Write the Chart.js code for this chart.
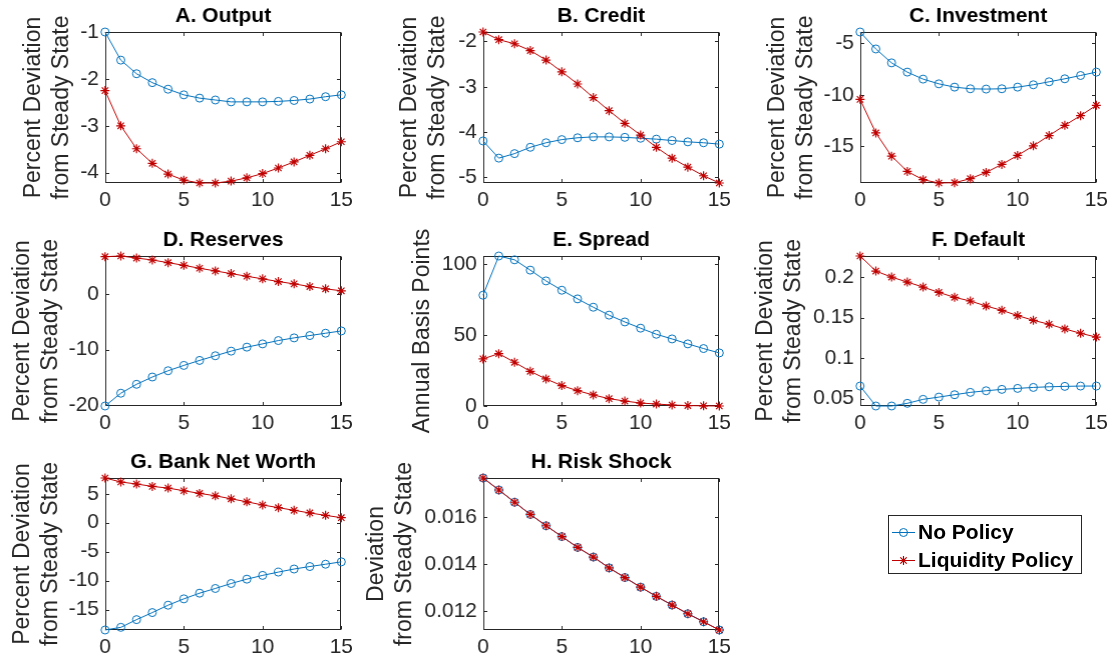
<!DOCTYPE html>
<html>
<head>
<meta charset="utf-8">
<script src="https://cdn.jsdelivr.net/npm/chart.js@4.4.0/dist/chart.umd.min.js"></script>
<style>
  html, body { margin: 0; padding: 0; background: #fff; overflow: hidden; }
  #fig { position: relative; width: 1120px; height: 665px; }
  .panel { position: absolute; }
</style>
</head>
<body>
<div id="fig"></div>
<script>
// horizon (quarters after the shock)
const steps = [0, 1, 2, 3, 4, 5, 6, 7, 8, 9, 10, 11, 12, 13, 14, 15];
const xTicks = [0, 5, 10, 15];
const seriesNames = ["No Policy", "Liquidity Policy"];

const outputNoPolicy = [-1.00, -1.60, -1.89, -2.08, -2.22, -2.34, -2.41, -2.45, -2.49, -2.49, -2.49, -2.48, -2.46, -2.43, -2.38, -2.34];
const outputLiquidity = [-2.25, -3.00, -3.49, -3.80, -4.03, -4.16, -4.22, -4.22, -4.18, -4.11, -4.02, -3.90, -3.77, -3.63, -3.49, -3.34];
const outputTicks = [-4, -3, -2, -1];

const creditNoPolicy = [-4.20, -4.58, -4.48, -4.34, -4.24, -4.17, -4.13, -4.11, -4.11, -4.12, -4.14, -4.16, -4.19, -4.22, -4.24, -4.27];
const creditLiquidity = [-1.79, -1.96, -2.05, -2.20, -2.41, -2.67, -2.94, -3.24, -3.53, -3.81, -4.07, -4.34, -4.58, -4.78, -4.97, -5.13];
const creditTicks = [-5, -4, -3, -2];

const investNoPolicy = [-3.90, -5.55, -6.90, -7.80, -8.48, -8.94, -9.26, -9.42, -9.45, -9.42, -9.26, -9.03, -8.74, -8.45, -8.13, -7.80];
const investLiquidity = [-10.45, -13.71, -15.97, -17.45, -18.26, -18.58, -18.55, -18.16, -17.55, -16.77, -15.90, -14.97, -13.97, -12.97, -12.03, -11.03];
const investTicks = [-15, -10, -5];

const reservesNoPolicy = [-20.15, -17.85, -16.24, -14.93, -13.80, -12.84, -11.94, -11.10, -10.27, -9.55, -8.96, -8.36, -7.88, -7.46, -7.04, -6.63];
const reservesLiquidity = [6.75, 6.87, 6.50, 6.15, 5.67, 5.19, 4.66, 4.18, 3.70, 3.22, 2.75, 2.27, 1.85, 1.37, 0.96, 0.60];
const reservesTicks = [-20, -10, 0];

const spreadNoPolicy = [78.3, 106.0, 103.3, 96.0, 88.4, 81.8, 75.7, 69.8, 64.2, 59.4, 55.0, 50.7, 47.4, 43.9, 40.6, 37.5];
const spreadLiquidity = [33.3, 37.0, 30.9, 24.5, 19.1, 14.4, 10.8, 7.8, 5.2, 3.5, 2.1, 1.4, 0.7, 0.3, 0.1, 0.0];
const spreadTicks = [0, 50, 100];

const defaultNoPolicy = [0.0656, 0.0410, 0.0410, 0.0443, 0.0492, 0.0520, 0.0549, 0.0578, 0.0598, 0.0615, 0.0627, 0.0639, 0.0647, 0.0652, 0.0656, 0.0656];
const defaultLiquidity = [0.2260, 0.2074, 0.2000, 0.1938, 0.1877, 0.1811, 0.1750, 0.1705, 0.1643, 0.1590, 0.1525, 0.1467, 0.1418, 0.1360, 0.1307, 0.1260];
const defaultTicks = [0.05, 0.1, 0.15, 0.2];

const netWorthNoPolicy = [-18.53, -18.07, -16.74, -15.52, -14.25, -13.15, -12.17, -11.36, -10.50, -9.75, -9.10, -8.53, -8.00, -7.57, -7.17, -6.76];
const netWorthLiquidity = [7.72, 7.03, 6.68, 6.27, 5.98, 5.52, 5.06, 4.65, 4.13, 3.61, 3.06, 2.60, 2.14, 1.68, 1.27, 0.87];
const netWorthTicks = [-15, -10, -5, 0, 5];

const riskNoPolicy = [0.01766, 0.01715, 0.01663, 0.01611, 0.01563, 0.01517, 0.01471, 0.01430, 0.01384, 0.01343, 0.01302, 0.01263, 0.01226, 0.01189, 0.01155, 0.01120];
const riskLiquidity = [0.01766, 0.01715, 0.01663, 0.01611, 0.01563, 0.01517, 0.01471, 0.01430, 0.01384, 0.01343, 0.01302, 0.01263, 0.01226, 0.01189, 0.01155, 0.01120];
const riskTicks = [0.012, 0.014, 0.016];

const BLUE = "#0072BD";
const RED = "#C00000";
const AXIS = "#262626";
const FONT = "'Liberation Sans', Arial, Helvetica, sans-serif";
const PCT = ["Percent Deviation", "from Steady State"];

// panel list: left/top/width/height of the plot box, ylab = width reserved left of the box
const panels = [
  { title: "A. Output", ytitle: PCT, a: outputNoPolicy, b: outputLiquidity, ticks: outputTicks, left: 105, top: 32, w: 239, h: 151, ylab: 84.8 },
  { title: "B. Credit", ytitle: PCT, a: creditNoPolicy, b: creditLiquidity, ticks: creditTicks, left: 483, top: 32, w: 239, h: 151, ylab: 86.8 },
  { title: "C. Investment", ytitle: PCT, a: investNoPolicy, b: investLiquidity, ticks: investTicks, left: 860, top: 32, w: 239, h: 151, ylab: 95.8 },
  { title: "D. Reserves", ytitle: PCT, a: reservesNoPolicy, b: reservesLiquidity, ticks: reservesTicks, left: 105, top: 256, w: 239, h: 150, ylab: 95.8 },
  { title: "E. Spread", ytitle: "Annual Basis Points", a: spreadNoPolicy, b: spreadLiquidity, ticks: spreadTicks, left: 483, top: 256, w: 239, h: 150, ylab: 73.8 },
  { title: "F. Default", ytitle: PCT, a: defaultNoPolicy, b: defaultLiquidity, ticks: defaultTicks, left: 860, top: 256, w: 239, h: 150, ylab: 107.8 },
  { title: "G. Bank Net Worth", ytitle: PCT, a: netWorthNoPolicy, b: netWorthLiquidity, ticks: netWorthTicks, left: 105, top: 478, w: 239, h: 152, ylab: 95.8 },
  { title: "H. Risk Shock", ytitle: ["Deviation", "from Steady State"], a: riskNoPolicy, b: riskLiquidity, ticks: riskTicks, left: 483, top: 478, w: 239, h: 152, ylab: 119.8 },
];

const TITLE_H = 30;
const XAX_H = 36;
const RIGHT_PAD = 14;
const TICK_LEN = 3.5;

// MATLAB style box with inward ticks on all four sides
const boxFrame = {
  id: "boxFrame",
  beforeDatasetsDraw(chart) {
    const { ctx, chartArea: ca, scales } = chart;
    const l = Math.round(ca.left) + 0.5, r = Math.round(ca.right) - 0.5;
    const t = Math.round(ca.top) + 0.5, b = Math.round(ca.bottom) - 0.5;
    ctx.save();
    ctx.lineWidth = 1;
    ctx.strokeStyle = AXIS;
    ctx.strokeRect(l, t, r - l, b - t);
    ctx.beginPath();
    scales.x.ticks.forEach(tk => {
      const px = Math.round(scales.x.getPixelForValue(tk.value)) + 0.5;
      ctx.moveTo(px, b); ctx.lineTo(px, b - TICK_LEN);
      ctx.moveTo(px, t); ctx.lineTo(px, t + TICK_LEN);
    });
    scales.y.ticks.forEach(tk => {
      const py = Math.round(scales.y.getPixelForValue(tk.value)) + 0.5;
      ctx.moveTo(l, py); ctx.lineTo(l + TICK_LEN, py);
      ctx.moveTo(r, py); ctx.lineTo(r - TICK_LEN, py);
    });
    ctx.stroke();
    ctx.restore();
  }
};

function makePanel(p) {
  const wrap = document.createElement("div");
  wrap.className = "panel";
  const cw = p.ylab + p.w + RIGHT_PAD;
  const ch = TITLE_H + p.h + XAX_H;
  wrap.style.left = (p.left - p.ylab) + "px";
  wrap.style.top = (p.top - TITLE_H) + "px";
  const canvas = document.createElement("canvas");
  canvas.width = cw;
  canvas.height = ch;
  canvas.style.width = cw + "px";
  canvas.style.height = ch + "px";
  wrap.appendChild(canvas);
  document.getElementById("fig").appendChild(wrap);

  const all = p.a.concat(p.b);
  new Chart(canvas.getContext("2d"), {
    type: "line",
    data: {
      datasets: [
        {
          label: seriesNames[0],
          data: steps.map((s, i) => ({ x: s, y: p.a[i] })),
          borderColor: BLUE,
          borderWidth: 1,
          pointStyle: "circle",
          pointRadius: 4,
          pointBorderWidth: 1,
          pointBorderColor: BLUE,
          pointBackgroundColor: "rgba(0,0,0,0)",
          tension: 0,
          clip: false,
          order: 2
        },
        {
          label: seriesNames[1],
          data: steps.map((s, i) => ({ x: s, y: p.b[i] })),
          borderColor: RED,
          borderWidth: 1,
          pointStyle: "star",
          pointRadius: 4.5,
          pointBorderWidth: 1.2,
          pointBorderColor: RED,
          pointBackgroundColor: RED,
          tension: 0,
          clip: false,
          order: 1
        }
      ]
    },
    options: {
      responsive: false,
      animation: false,
      devicePixelRatio: 1,
      layout: { padding: { left: 0, right: RIGHT_PAD, top: 0, bottom: 0 } },
      plugins: {
        legend: { display: false },
        tooltip: { enabled: false },
        title: {
          display: true,
          text: p.title,
          fullSize: false,
          color: "#000",
          font: { family: FONT, size: 21, weight: "bold", lineHeight: 1.2 },
          padding: { top: 2, bottom: 2.8 }
        }
      },
      scales: {
        x: {
          type: "linear",
          min: 0,
          max: 15,
          afterBuildTicks: s => { s.ticks = xTicks.map(v => ({ value: v })); },
          afterFit: s => { s.height = XAX_H; },
          grid: { display: false, drawTicks: false },
          border: { display: false },
          ticks: { color: AXIS, padding: 5, maxRotation: 0, autoSkip: false, font: { family: FONT, size: 21 } }
        },
        y: {
          type: "linear",
          min: Math.min(...all),
          max: Math.max(...all),
          afterBuildTicks: s => { s.ticks = p.ticks.map(v => ({ value: v })); },
          afterFit: s => { s.width = p.ylab; },
          grid: { display: false, drawTicks: false },
          border: { display: false },
          ticks: { color: AXIS, padding: 6, autoSkip: false, font: { family: FONT, size: 21 }, callback: v => String(v) },
          title: { display: true, text: p.ytitle, color: AXIS, padding: 0, font: { family: FONT, size: 23, lineHeight: 1.2 } }
        }
      }
    },
    plugins: [boxFrame]
  });
}

panels.forEach(makePanel);

// legend in the empty ninth cell
const legendBox = {
  id: "legendBox",
  afterDraw(chart) {
    const ctx = chart.ctx;
    ctx.save();
    ctx.lineWidth = 1;
    ctx.strokeStyle = AXIS;
    ctx.strokeRect(8.5, 10.5, 193, 58);
    chart.data.datasets.forEach((ds, i) => {
      const y = 27 + i * 28;
      ctx.strokeStyle = ds.borderColor;
      ctx.fillStyle = ds.borderColor;
      ctx.lineWidth = 1;
      ctx.beginPath();
      ctx.moveTo(12, y + 0.5);
      ctx.lineTo(35, y + 0.5);
      ctx.stroke();
      ctx.lineWidth = ds.pointBorderWidth;
      ctx.fillStyle = ds.pointBackgroundColor;
      Chart.helpers.drawPoint(ctx, { pointStyle: ds.pointStyle, radius: ds.pointRadius, rotation: 0, borderWidth: ds.pointBorderWidth }, 23.5, y + 0.5);
      ctx.fillStyle = "#000";
      ctx.font = "bold 21px " + FONT;
      ctx.textBaseline = "middle";
      ctx.textAlign = "left";
      ctx.fillText(ds.label, 38, y + 1);
    });
    ctx.restore();
  }
};

(function makeLegend() {
  const wrap = document.createElement("div");
  wrap.className = "panel";
  wrap.style.left = "880px";
  wrap.style.top = "505px";
  const canvas = document.createElement("canvas");
  canvas.width = 220;
  canvas.height = 80;
  wrap.appendChild(canvas);
  document.getElementById("fig").appendChild(wrap);
  new Chart(canvas.getContext("2d"), {
    type: "line",
    data: {
      datasets: [
        { label: seriesNames[0], data: [], borderColor: BLUE, pointStyle: "circle", pointRadius: 4, pointBorderWidth: 1, pointBackgroundColor: "rgba(0,0,0,0)" },
        { label: seriesNames[1], data: [], borderColor: RED, pointStyle: "star", pointRadius: 4.5, pointBorderWidth: 1.2, pointBackgroundColor: RED }
      ]
    },
    options: {
      responsive: false,
      animation: false,
      devicePixelRatio: 1,
      plugins: { legend: { display: false }, tooltip: { enabled: false } },
      scales: { x: { display: false }, y: { display: false } }
    },
    plugins: [legendBox]
  });
})();
</script>
</body>
</html>
